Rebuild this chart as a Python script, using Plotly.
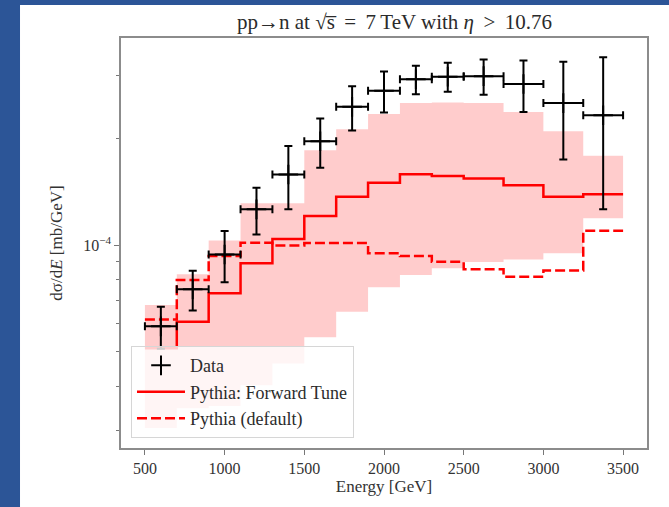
import plotly.graph_objects as go

# Energy bin edges [GeV]
bin_edges = [500, 700, 900, 1100, 1300, 1500, 1700, 1900, 2100, 2300, 2500,
             2750, 3000, 3250, 3500]

# Measured cross section (bin centres, half widths, values, errors)
data_energy = [600, 800, 1000, 1200, 1400, 1600, 1800, 2000, 2200, 2400,
               2625, 2875, 3125, 3375]
data_energy_err = [100, 100, 100, 100, 100, 100, 100, 100, 100, 100,
                   125, 125, 125, 125]
data_xsec = [5.9e-5, 7.5e-5, 9.4e-5, 1.26e-4, 1.58e-4, 1.96e-4, 2.45e-4,
             2.72e-4, 2.93e-4, 2.98e-4, 2.99e-4, 2.84e-4, 2.51e-4, 2.32e-4]
data_xsec_err = [0.8e-5, 0.96e-5, 1.55e-5, 0.19e-4, 0.32e-4, 0.31e-4,
                 0.35e-4, 0.36e-4, 0.27e-4, 0.28e-4, 0.34e-4, 0.47e-4,
                 0.77e-4, 1.06e-4]

# Pythia predictions per bin
forward_tune = [5.12e-5, 6.08e-5, 7.31e-5, 8.88e-5, 1.04e-4, 1.207e-4,
                1.368e-4, 1.498e-4, 1.582e-4, 1.565e-4, 1.54e-4, 1.473e-4,
                1.368e-4, 1.39e-4]
pythia_default = [6.17e-5, 7.97e-5, 9.31e-5, 1.015e-4, 9.97e-5, 1.013e-4,
                  1.013e-4, 9.48e-5, 9.31e-5, 8.97e-5, 8.54e-5, 8.14e-5,
                  8.47e-5, 1.097e-4]

# Tune uncertainty envelope per bin
band_low = [3.05e-5, 3.47e-5, 3.52e-5, 4.03e-5, 4.64e-5, 5.50e-5, 6.49e-5,
            7.60e-5, 8.23e-5, 8.60e-5, 8.96e-5, 9.11e-5, 9.48e-5, 1.189e-4]
band_high = [6.78e-5, 8.27e-5, 1.03e-4, 1.31e-4, 1.31e-4, 1.85e-4, 2.12e-4,
             2.34e-4, 2.51e-4, 2.52e-4, 2.51e-4, 2.37e-4, 2.09e-4, 1.785e-4]

y_tick_vals = [1e-4]
y_tick_text = ["10<sup>−4</sup>"]
y_minor_vals = [3e-5, 4e-5, 5e-5, 6e-5, 7e-5, 8e-5, 9e-5, 2e-4, 3e-4]
x_tick_vals = [500, 1000, 1500, 2000, 2500, 3000, 3500]

FONT = "Liberation Serif"
TEXT = "#2b2b2b"
RED = "#ff0000"


def step_y(vals):
    # repeat the last bin value so the 'hv' step reaches the final edge
    return list(vals) + [vals[-1]]


fig = go.Figure()

# uncertainty envelope
fig.add_trace(go.Scatter(
    x=bin_edges, y=step_y(band_low), mode="lines", line_shape="hv",
    line=dict(width=0), hoverinfo="skip", showlegend=False))
fig.add_trace(go.Scatter(
    x=bin_edges, y=step_y(band_high), mode="lines", line_shape="hv",
    line=dict(width=0), fill="tonexty", fillcolor="rgba(255,0,0,0.2)",
    hoverinfo="skip", showlegend=False))

# model curves
fig.add_trace(go.Scatter(
    x=bin_edges, y=step_y(forward_tune), mode="lines", line_shape="hv",
    name="Pythia: Forward Tune", legendrank=2,
    line=dict(color=RED, width=2.5)))
fig.add_trace(go.Scatter(
    x=bin_edges, y=step_y(pythia_default), mode="lines", line_shape="hv",
    name="Pythia (default)", legendrank=3,
    line=dict(color=RED, width=2.5, dash="10px,4px")))

# measurement
fig.add_trace(go.Scatter(
    x=data_energy, y=data_xsec, mode="markers", name="Data", legendrank=1,
    marker=dict(symbol="cross-thin", size=14, color="black",
                line=dict(color="black", width=2)),
    error_x=dict(type="data", array=data_energy_err, color="black",
                 thickness=2, width=4),
    error_y=dict(type="data", array=data_xsec_err, color="black",
                 thickness=2, width=4)))

fig.update_layout(
    width=669, height=507,
    margin=dict(l=121, r=22, t=38, b=59),
    paper_bgcolor="#2c5597", plot_bgcolor="white",
    font=dict(family=FONT, size=16, color=TEXT),
    title=dict(
        text="pp→n at √s̅ \u2009=\u2009 7\u2009TeV with <i>η</i> \u2009>\u2009 10.76",
        x=0.52, xanchor="center", xref="paper", y=0.957, yanchor="middle",
        font=dict(family=FONT, size=21, color=TEXT)),
    showlegend=True,
    legend=dict(
        x=0.019, y=0.024, xanchor="left", yanchor="bottom",
        traceorder="normal",
        bgcolor="rgba(255,255,255,0.8)", bordercolor="#d6d6d6",
        borderwidth=1, itemwidth=48,
        font=dict(family=FONT, size=18, color=TEXT)),
    shapes=[dict(type="rect", xref="paper", yref="paper", layer="below",
                 x0=-0.192, x1=1.2, y0=-0.3, y1=1.0805,
                 fillcolor="white", line=dict(width=0))],
)

fig.update_xaxes(
    range=[350, 3650], tickvals=x_tick_vals, ticks="outside", ticklen=5,
    tickcolor="#777777", tickwidth=1, showline=True, linecolor="#8c8c8c",
    linewidth=1.5, mirror=True, showgrid=False, zeroline=False,
    tickfont=dict(family=FONT, size=16, color="#333333"),
    title=dict(text="Energy [GeV]", standoff=3,
               font=dict(family=FONT, size=17, color="#333333")))

fig.update_yaxes(
    type="log", range=[-4.5718, -3.4169],
    tickmode="array", tickvals=y_tick_vals, ticktext=y_tick_text,
    ticks="outside", ticklen=5, tickcolor="#777777", tickwidth=1,
    minor=dict(tickmode="array", tickvals=y_minor_vals, ticks="outside",
               ticklen=3, tickcolor="#777777", tickwidth=1, showgrid=False),
    showline=True, linecolor="#8c8c8c", linewidth=1.5, mirror=True,
    showgrid=False, zeroline=False,
    tickfont=dict(family=FONT, size=16, color="#333333"),
    title=dict(text="dσ/d<i>E</i> [mb/GeV]", standoff=16,
               font=dict(family=FONT, size=17, color="#333333")))

fig.write_html("out.html")
